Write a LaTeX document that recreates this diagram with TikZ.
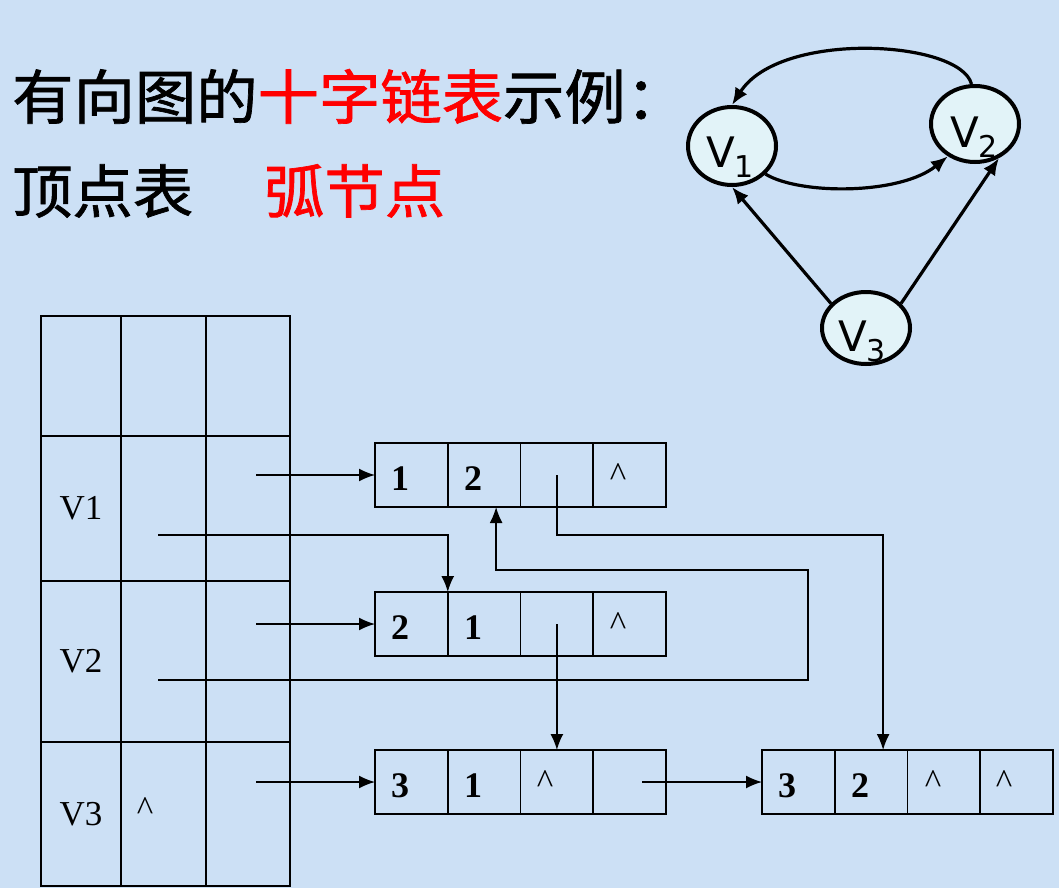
\documentclass[tikz,border=0pt]{standalone}
\usepackage{fontspec}
\setmainfont{Liberation Serif}
\newfontfamily\cjk[FakeBold=1.2,FakeStretch=1.04]{Noto Sans CJK SC}
\newfontfamily\gsans{DejaVu Sans}
\usetikzlibrary{arrows.meta,shapes.geometric,calc}
\definecolor{bg}{RGB}{204,224,245}
\definecolor{efill}{RGB}{226,243,248}
\begin{document}
\begin{tikzpicture}[x=1pt,y=-1pt,
  vcell/.style={draw,line width=1.8pt,inner sep=0pt,outer sep=0pt,font=\fontsize{35}{35}\selectfont},
  acell/.style={draw,line width=1.8pt,minimum width=72.75pt,minimum height=64pt,inner sep=0pt,outer sep=0pt},
  dig/.style={anchor=base,inner sep=0pt,font=\bfseries\fontsize{36}{36}\selectfont},
  hat/.style={anchor=base,inner sep=0pt,font=\fontsize{35}{35}\selectfont},
  arr/.style={line width=1.7pt,-{Latex[length=16pt,width=13pt]}},
  vert/.style={ellipse,draw,line width=4pt,fill=efill,minimum width=88pt,inner sep=0pt},
  vlab/.style={inner sep=0pt,font=\gsans\fontsize{42}{42}\selectfont},
  garr/.style={line width=3.2pt,-{Latex[length=17pt,width=14pt]}},
  ttl/.style={anchor=base west,inner sep=0pt,font=\cjk\fontsize{58}{58}\selectfont},
  ttlb/.style={ttl,font=\cjk\fontsize{59}{59}\selectfont}
]
\fill[bg] (0,0) rectangle (1059,888);
\useasboundingbox (0,0) rectangle (1059,888);

% titles
\node[ttlb] (title) at (12,119) {有向图的\textcolor{red}{十字链表}示例：};
\node[ttl] (vtab) at (12,213) {顶点表};
\node[ttl,text=red] (arcn) at (264,213) {弧节点};

% vertex table
\node[vcell,minimum width=80pt,minimum height=120pt] (t0a) at (81,376) {};
\node[vcell,minimum width=85pt,minimum height=120pt] (t0b) at (163.5,376) {};
\node[vcell,minimum width=84pt,minimum height=120pt] (t0c) at (248,376) {};
\node[vcell,minimum width=80pt,minimum height=145pt] (v1a) at (81,508.5) {V1};
\node[vcell,minimum width=85pt,minimum height=145pt] (v1b) at (163.5,508.5) {};
\node[vcell,minimum width=84pt,minimum height=145pt] (v1c) at (248,508.5) {};
\node[vcell,minimum width=80pt,minimum height=161pt] (v2a) at (81,661.5) {V2};
\node[vcell,minimum width=85pt,minimum height=161pt] (v2b) at (163.5,661.5) {};
\node[vcell,minimum width=84pt,minimum height=161pt] (v2c) at (248,661.5) {};
\node[vcell,minimum width=80pt,minimum height=144pt] (v3a) at (81,814) {V3};
\node[vcell,minimum width=85pt,minimum height=144pt] (v3b) at (163.5,814) {};
\node[vcell,minimum width=84pt,minimum height=144pt] (v3c) at (248,814) {};
\node[hat] (v3h) at (145,820) {\textasciicircum};

% arc box 1 : 1 2 . ^
\node[acell] (a1c1) at (411.4,475) {};
\node[acell] (a1c2) at (484.1,475) {};
\node[acell] (a1c3) at (556.9,475) {};
\node[acell] (a1c4) at (629.6,475) {};
\node[dig] (a1t1) at (400,490) {1};
\node[dig] (a1t2) at (473,490) {2};
\node[hat] (a1t4) at (618,486) {\textasciicircum};

% arc box 2 : 2 1 . ^
\node[acell] (a2c1) at (411.4,624) {};
\node[acell] (a2c2) at (484.1,624) {};
\node[acell] (a2c3) at (556.9,624) {};
\node[acell] (a2c4) at (629.6,624) {};
\node[dig] (a2t1) at (400,639) {2};
\node[dig] (a2t2) at (473,639) {1};
\node[hat] (a2t4) at (618,635) {\textasciicircum};

% arc box 3 : 3 1 ^ .
\node[acell] (a3c1) at (411.4,782) {};
\node[acell] (a3c2) at (484.1,782) {};
\node[acell] (a3c3) at (556.9,782) {};
\node[acell] (a3c4) at (629.6,782) {};
\node[dig] (a3t1) at (400,797) {3};
\node[dig] (a3t2) at (473,797) {1};
\node[hat] (a3t3) at (545,793) {\textasciicircum};

% arc box 4 : 3 2 ^ ^
\node[acell] (a4c1) at (798.4,782) {};
\node[acell] (a4c2) at (871.1,782) {};
\node[acell] (a4c3) at (943.9,782) {};
\node[acell] (a4c4) at (1016.6,782) {};
\node[dig] (a4t1) at (787,797) {3};
\node[dig] (a4t2) at (860,797) {2};
\node[hat] (a4t3) at (933,793) {\textasciicircum};
\node[hat] (a4t4) at (1004,793) {\textasciicircum};

% connectors
\coordinate (o1) at (256,475);
\coordinate (i1) at (158,535);
\coordinate (o2) at (256,624);
\coordinate (i2) at (158,680);
\coordinate (k1) at (808,680);
\coordinate (k2) at (808,570);
\coordinate (o3) at (256,782);
\coordinate (p3) at (642,782);
\draw[arr] (o1) -- (a1c1.west);
\draw[arr] (i1) -| (a2c1.north east);
\draw[arr] (o2) -- (a2c1.west);
\draw[arr] (i2) -- (k1) -- (k2) -| ($(a1c2.south)+(12,0)$);
\draw[arr] (o3) -- (a3c1.west);
\draw[arr] (a1c3.center) -- ++(0,60) -| ($(a4c2.north)+(12,0)$);
\draw[arr] (a2c3.center) -- (a3c3.north);
\draw[arr] (p3) -- (a4c1.west);

% graph
\node[vert,minimum height=78pt] (g1) at (732,146) {};
\node[vert,minimum height=76pt] (g2) at (975,124) {};
\node[vert,minimum height=72pt] (g3) at (866,328) {};
\node[vlab] (l1) at (730,157) {V\raisebox{-10pt}{\fontsize{30}{30}\selectfont 1}};
\node[vlab] (l2) at (974,137) {V\raisebox{-10pt}{\fontsize{30}{30}\selectfont 2}};
\node[vlab] (l3) at (862,341) {V\raisebox{-10pt}{\fontsize{30}{30}\selectfont 3}};
\draw[garr] (g2.95) .. controls (960,40) and (780,30) .. (g1.north);
\draw[garr] (g1.-40) .. controls (800,195) and (900,195) .. (g2.-130);
\draw[garr] (g3.145) -- (g1.south);
\draw[garr] (g3.35) -- (g2.-55);
\end{tikzpicture}
\end{document}
